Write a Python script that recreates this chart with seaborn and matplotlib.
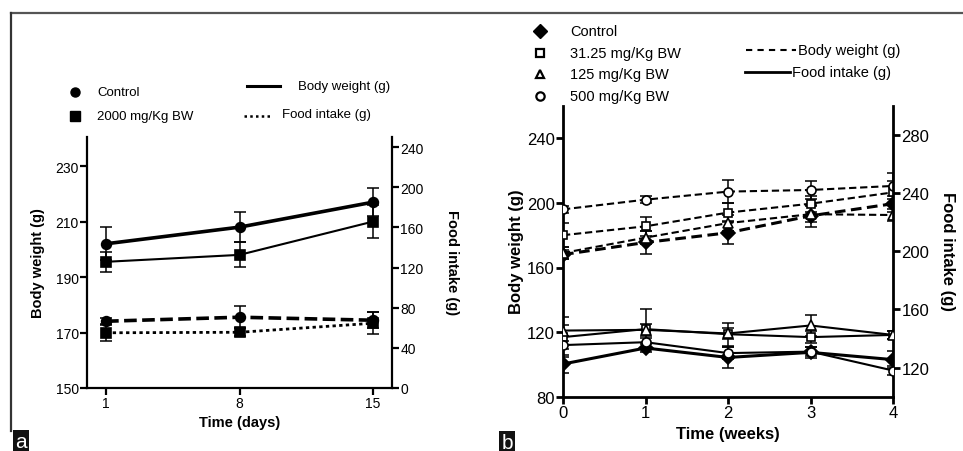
import matplotlib
matplotlib.use("Agg")
import matplotlib.pyplot as plt
import seaborn as sns
import numpy as np
import pandas as pd
from matplotlib.lines import Line2D

# ---------------- data: panel a ----------------
days = [1, 8, 15]
bw_control_a = [202, 208, 217]
bw_control_a_err = [6, 5.5, 5]
bw_2000 = [195.5, 198, 210]
bw_2000_err = [3.7, 4.5, 6]
fi_control_a = [66.5, 70.5, 67.5]
fi_control_a_err = [3, 11, 8]
fi_2000 = [55, 55.5, 64.5]
fi_2000_err = [8, 4, 11]

# ---------------- data: panel b ----------------
weeks = [0, 1, 2, 3, 4]
bw_control_b = [168, 175.5, 181.5, 192, 199.5]
bw_control_b_err = [3, 7, 7, 7, 5]
bw_31 = [180, 185.5, 194, 199.5, 206.5]
bw_31_err = [7.5, 6, 6, 5, 7]
bw_125 = [169, 178.5, 187.5, 193, 192.5]
bw_125_err = [4, 4, 5, 5, 4]
bw_500 = [196, 202, 207, 208, 210.5]
bw_500_err = [2, 2, 7, 5.5, 8]
fi_control_b = [122.5, 133.5, 127, 130.5, 125.5]
fi_control_b_err = [6, 3, 7.5, 4, 6]
fi_31 = [141, 146.5, 143, 141, 142.5]
fi_31_err = [14, 14, 8, 4, 3]
fi_125 = [145.5, 146, 143.5, 149, 142.5]
fi_125_err = [4, 4, 4, 7.5, 3]
fi_500 = [135.5, 137.5, 130, 131, 118]
fi_500_err = [3, 3, 4, 3, 3]

W, H = 963, 452
plt.rcParams['font.family'] = ['Liberation Sans', 'DejaVu Sans']
fig = plt.figure(figsize=(W / 100, H / 100), dpi=100)


def px_axes(l, t, r, b):
    return fig.add_axes([l / W, (H - b) / H, (r - l) / W, (b - t) / H])


def series(ax, x, y, err, marker, ms, ls, lw, mfc='black', dashes=None):
    df = pd.DataFrame({'x': x, 'y': y})
    sns.lineplot(data=df, x='x', y='y', ax=ax, color='black', marker=marker,
                 markersize=ms, linewidth=lw, linestyle=ls,
                 markerfacecolor=mfc, markeredgecolor='black', markeredgewidth=1.2,
                 zorder=3)
    if dashes is not None:
        ax.lines[-1].set_dashes(dashes)
    ax.errorbar(x, y, yerr=err, fmt='none', ecolor='black', elinewidth=1.1,
                capsize=4, capthick=1.1, zorder=2)


def style_axes(ax, ax2, lw, fs):
    for a in (ax, ax2):
        a.spines['top'].set_visible(False)
        for s in ('left', 'right', 'bottom'):
            a.spines[s].set_linewidth(lw)
            a.spines[s].set_color('black')
        a.tick_params(direction='out', length=5, width=lw, labelsize=fs, pad=1, colors='black')
        a.set_xlabel('')
        a.set_ylabel('')
        a.set_facecolor('none')
    ax2.spines['left'].set_visible(False)
    ax2.spines['bottom'].set_visible(False)
    ax.spines['right'].set_visible(False)


# ---------------- panel a ----------------
axa = px_axes(87, 138, 392, 389)
axa2 = axa.twinx()
series(axa, days, bw_control_a, bw_control_a_err, 'o', 7, '-', 2.6)
series(axa, days, bw_2000, bw_2000_err, 's', 7, '-', 1.5)
series(axa2, days, fi_control_a, fi_control_a_err, 'o', 7, '--', 2.6, dashes=(3.5, 1.5))
series(axa2, days, fi_2000, fi_2000_err, 's', 7, ':', 2.0, dashes=(1.2, 1.2))
axa.set_xlim(0, 16)
axa.set_ylim(150, 240.5)
axa2.set_ylim(0, 250)
axa.set_xticks(days)
axa.set_yticks([150, 170, 190, 210, 230])
axa2.set_yticks([0, 40, 80, 120, 160, 200, 240])
style_axes(axa, axa2, 1.6, 10)

# ---------------- panel b ----------------
axb = px_axes(563, 107, 893, 397.7)
axb2 = axb.twinx()
series(axb, weeks, bw_control_b, bw_control_b_err, 'D', 7.5, '--', 2.2, dashes=(3.5, 1.8))
series(axb, weeks, bw_31, bw_31_err, 's', 6, '--', 1.5, mfc='white', dashes=(3.5, 1.8))
series(axb, weeks, bw_125, bw_125_err, '^', 6.5, '--', 1.5, mfc='white', dashes=(3.5, 1.8))
series(axb, weeks, bw_500, bw_500_err, 'o', 6.5, '--', 1.5, mfc='white', dashes=(3.5, 1.8))
series(axb2, weeks, fi_control_b, fi_control_b_err, 'D', 7.5, '-', 2.2)
series(axb2, weeks, fi_31, fi_31_err, 's', 6, '-', 1.5, mfc='white')
series(axb2, weeks, fi_125, fi_125_err, '^', 6.5, '-', 1.5, mfc='white')
series(axb2, weeks, fi_500, fi_500_err, 'o', 6.5, '-', 1.5, mfc='white')
axb.set_xlim(0, 4)
axb.set_ylim(80, 260)
axb2.set_ylim(100, 300)
axb.set_xticks(weeks)
axb.set_yticks([80, 120, 160, 200, 240])
axb2.set_yticks([120, 160, 200, 240, 280])
style_axes(axb, axb2, 2.0, 12)

# ---------------- overlay: frame, legends, labels ----------------
ov = fig.add_axes([0, 0, 1, 1])
ov.set_xlim(0, W)
ov.set_ylim(H, 0)
ov.axis('off')
ov.set_zorder(-1)
ov.plot([11, 963], [14, 14], color='#555555', lw=1.6)
ov.plot([11, 11], [14, 432], color='#333333', lw=1.6)

# axis labels
ov.text(38, 263, 'Body weight (g)', rotation=90, fontsize=10.5, fontweight='bold', ha='center', va='center')
ov.text(452, 263, 'Food intake (g)', rotation=-90, fontsize=10.5, fontweight='bold', ha='center', va='center')
ov.text(240, 423, 'Time (days)', fontsize=10.5, fontweight='bold', ha='center', va='center')
ov.text(516, 252, 'Body weight (g)', rotation=90, fontsize=12, fontweight='bold', ha='center', va='center')
ov.text(948, 252, 'Food intake (g)', rotation=-90, fontsize=12, fontweight='bold', ha='center', va='center')
ov.text(728, 435, 'Time (weeks)', fontsize=12, fontweight='bold', ha='center', va='center')

# panel letters
ov.text(21, 443, 'a', fontsize=15, color='white', ha='center', va='center',
        bbox=dict(boxstyle='square,pad=0.12', fc='#111111', ec='none'))
ov.text(507, 444, 'b', fontsize=15, color='white', ha='center', va='center',
        bbox=dict(boxstyle='square,pad=0.12', fc='#111111', ec='none'))

# legend a
ov.plot([75], [93], marker='o', ms=6.5, color='black', ls='none')
ov.plot([75], [117], marker='s', ms=6.5, color='black', ls='none')
ov.text(97, 93, 'Control', fontsize=9.5, va='center')
ov.text(97, 117, '2000 mg/Kg BW', fontsize=9.5, va='center')
ov.plot([247, 280], [87, 87], color='black', lw=2.2)
ov.text(298, 87, 'Body weight (g)', fontsize=9.5, va='center')
l = ov.plot([244, 272], [117, 117], color='black', lw=1.8)[0]
l.set_dashes((1, 1.3))
ov.text(282, 115, 'Food intake (g)', fontsize=9.5, va='center')

# legend b
ov.plot([540], [32], marker='D', ms=7.5, color='black', ls='none')
ov.plot([540], [54], marker='s', ms=6, mfc='white', mec='black', mew=1.6, ls='none')
ov.plot([540], [75], marker='^', ms=6, mfc='white', mec='black', mew=1.6, ls='none')
ov.plot([540], [97], marker='o', ms=6, mfc='white', mec='black', mew=1.6, ls='none')
ov.text(570, 32, 'Control', fontsize=10.5, va='center')
ov.text(570, 54, '31.25 mg/Kg BW', fontsize=10.5, va='center')
ov.text(570, 75, '125 mg/Kg BW', fontsize=10.5, va='center')
ov.text(570, 97, '500 mg/Kg BW', fontsize=10.5, va='center')
l = ov.plot([746, 796], [51, 51], color='black', lw=1.5)[0]
l.set_dashes((3, 2.5))
ov.text(798, 51, 'Body weight (g)', fontsize=10.5, va='center')
ov.plot([745, 790], [73, 73], color='black', lw=2)
ov.text(792, 73, 'Food intake (g)', fontsize=10.5, va='center')

fig.savefig('out.png', dpi=100)
